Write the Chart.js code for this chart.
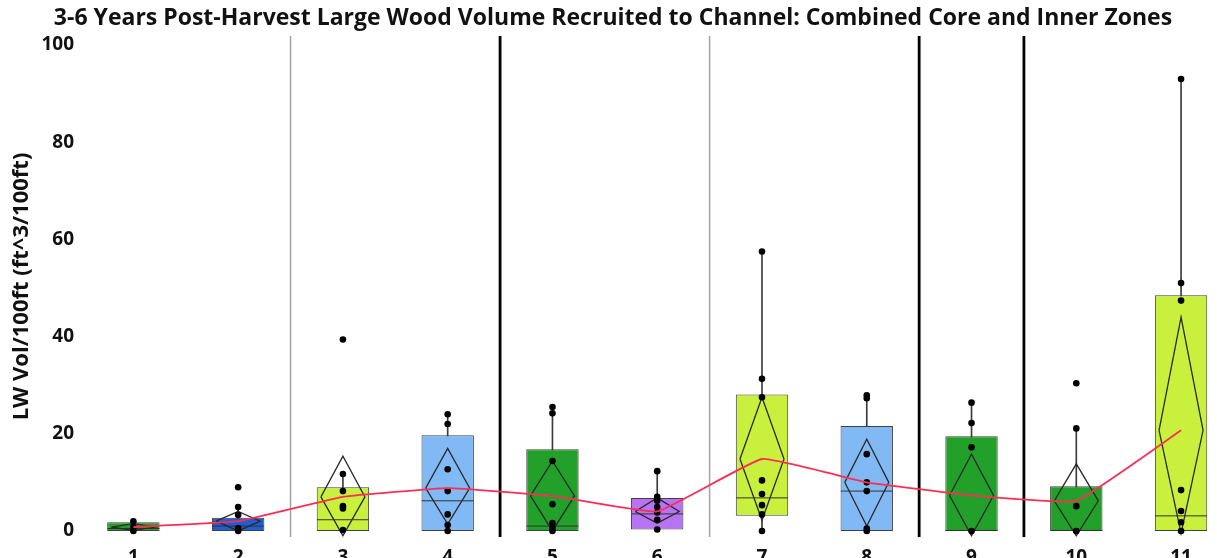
<!DOCTYPE html>
<html>
<head>
<meta charset="utf-8">
<script src="https://cdn.jsdelivr.net/npm/chart.js@4.4.1/dist/chart.umd.min.js"></script>
<style>
html,body{margin:0;padding:0;background:#fff;overflow:hidden;}
#wrap{width:1217px;height:558px;overflow:hidden;}
canvas{display:block;}
</style>
</head>
<body>
<div id="wrap"><canvas id="c" width="1217" height="580"></canvas></div>
<script>
// ---- data ----
const categories = [1, 2, 3, 4, 5, 6, 7, 8, 9, 10, 11];
const q1        = [0, 0, 0, 0, 0, 0.3, 3.1, 0, 0, 0, 0];
const q3        = [1.8, 2.7, 9.0, 19.7, 16.8, 6.8, 28.1, 21.6, 19.5, 9.2, 48.5];
const medians   = [0.5, 1.0, 2.3, 6.2, 1.0, 3.5, 6.8, 8.2, 0.1, 0.1, 3.1];
const whiskerLo = [0, 0, 0, 0, 0, 0, 0, 0, 0, 0, 0];
const whiskerHi = [2.0, 4.9, 11.7, 24.0, 25.5, 12.3, 57.5, 27.9, 26.4, 21.1, 93.0];
const means     = [0.8, 2.0, 7.0, 8.8, 7.2, 4.0, 14.8, 10.0, 7.3, 6.2, 20.7];
const ciHigh    = [1.5, 4.0, 15.4, 17.0, 14.4, 6.8, 27.5, 18.9, 15.8, 13.8, 44.0];
const ciLow     = [0.1, 0.0, -1.0, 1.4, 0.0, 1.6, 2.2, 1.0, -1.0, -1.0, -0.5];
const observations = [
  [0, 0.8, 2.0],
  [9.0, 4.9, 3.3, 0.6, 0],
  [39.4, 11.7, 8.2, 5.1, 4.6, 0.2],
  [24.0, 22.0, 12.7, 8.2, 3.4, 1.2, 0],
  [25.5, 24.2, 14.4, 5.5, 1.6, 0.6, 0],
  [12.3, 7.0, 6.2, 4.9, 3.8, 2.3, 0.3],
  [57.5, 31.3, 27.5, 10.4, 7.6, 5.3, 3.4, 0],
  [27.9, 27.3, 15.8, 10.0, 8.2, 0.5, 0],
  [26.4, 22.2, 17.2, 0],
  [30.4, 21.1, 5.1, 0],
  [93.0, 51.0, 47.4, 8.4, 4.1, 1.8, 0]
];
const boxColors = ['#22a02a', '#1f5fd6', '#c8f03c', '#80b9f4', '#22a02a', '#b774f2',
                   '#c8f03c', '#80b9f4', '#22a02a', '#22a02a', '#c8f03c'];
const thinSeparators  = [2.5, 6.5];
const thickSeparators = [4.5, 8.5, 9.5];
const yTickValues = [0, 20, 40, 60, 80, 100];

const titleText = '3-6 Years Post-Harvest Large Wood Volume Recruited to Channel: Combined Core and Inner Zones';
const yTitle = 'LW Vol/100ft (ft^3/100ft)';

// ---- build datasets ----
const Y_MIN = -1.25, Y_MAX = 101.85;
const X_MIN = 0.5, X_MAX = 11.343;
const DIAMOND_HALF = 0.21;

const boxData = categories.map((c, i) => ({x: c, y: [q1[i], q3[i]]}));
const whiskerData = categories.map((c, i) => ({x: c, y: [whiskerLo[i], whiskerHi[i]]}));
const medianData = categories.map((c, i) => ({x: c, y: medians[i]}));
const meanData = categories.map((c, i) => ({x: c, y: means[i]}));
const pointData = [];
categories.forEach((c, i) => observations[i].forEach(v => pointData.push({x: c, y: v})));
const diamondData = [];
categories.forEach((c, i) => {
  diamondData.push({x: c - DIAMOND_HALF, y: means[i]});
  diamondData.push({x: c, y: ciHigh[i]});
  diamondData.push({x: c + DIAMOND_HALF, y: means[i]});
  diamondData.push({x: c, y: ciLow[i]});
  diamondData.push({x: c - DIAMOND_HALF, y: means[i]});
  diamondData.push({x: c, y: null});
});
function sepData(list) {
  const out = [];
  list.forEach(s => { out.push({x: s, y: Y_MIN}); out.push({x: s, y: Y_MAX}); out.push({x: s, y: null}); });
  return out;
}

const FONT = '"Open Sans", "DejaVu Sans", sans-serif';

new Chart(document.getElementById('c'), {
  type: 'scatter',
  data: {
    datasets: [
      { type: 'line', data: sepData(thinSeparators), borderColor: '#a3a3a3', borderWidth: 1.5,
        pointRadius: 0, spanGaps: false, order: 20, clip: false },
      { type: 'line', data: sepData(thickSeparators), borderColor: '#000', borderWidth: 2.8,
        pointRadius: 0, spanGaps: false, order: 19, clip: false },
      { type: 'bar', data: whiskerData, backgroundColor: '#3c3c3c', barThickness: 1,
        grouped: false, order: 12 },
      { type: 'bar', data: boxData, backgroundColor: boxColors, borderColor: '#404040',
        borderWidth: 1, borderSkipped: false, barPercentage: 0.5, categoryPercentage: 1,
        grouped: false, order: 11 },
      { type: 'scatter', data: medianData, pointStyle: 'line', pointRadius: 26,
        borderColor: '#333', borderWidth: 1, order: 10 },
      { type: 'line', data: diamondData, borderColor: '#2a2a2a', borderWidth: 1.3,
        pointRadius: 0, spanGaps: false, tension: 0, order: 9 },
      { type: 'scatter', data: pointData, pointRadius: 3.3, backgroundColor: '#000',
        borderColor: '#000', borderWidth: 0, order: 8 },
      { type: 'line', data: meanData, borderColor: '#ff2d55', borderWidth: 1.8,
        pointRadius: 0, tension: 0.1, order: 7 }
    ]
  },
  options: {
    responsive: false,
    animation: false,
    events: [],
    layout: { autoPadding: false, padding: { left: 9, right: 0, top: 0, bottom: 0 } },
    plugins: {
      legend: { display: false },
      tooltip: { enabled: false },
      title: {
        display: true, text: titleText, color: '#111',
        font: { family: FONT, size: 23, weight: 'bold' },
        padding: { top: 5, bottom: 3.4 }
      }
    },
    scales: {
      x: {
        type: 'linear', min: X_MIN, max: X_MAX, offset: false,
        grid: { display: false, drawTicks: false },
        border: { display: false },
        afterBuildTicks: s => { s.ticks = categories.map(v => ({value: v})); },
        afterFit: s => { s.height = 43; s.paddingLeft = 0; s.paddingRight = 0; },
        ticks: { color: '#111', padding: 9, font: { family: FONT, size: 19, weight: 'bold' },
                 callback: v => String(v), autoSkip: false, maxRotation: 0 }
      },
      y: {
        type: 'linear', min: Y_MIN, max: Y_MAX,
        grid: { display: false, drawTicks: false },
        border: { display: false },
        afterBuildTicks: s => { s.ticks = yTickValues.map(v => ({value: v})); },
        afterFit: s => { s.width = 72; s.paddingTop = 0; s.paddingBottom = 0; },
        ticks: { color: '#111', padding: 7, font: { family: FONT, size: 19, weight: 'bold' } },
        title: { display: true, text: yTitle, color: '#111',
                 font: { family: FONT, size: 22, weight: 'bold' }, padding: { top: 0, bottom: 0 } }
      }
    }
  }
});
</script>
</body>
</html>
